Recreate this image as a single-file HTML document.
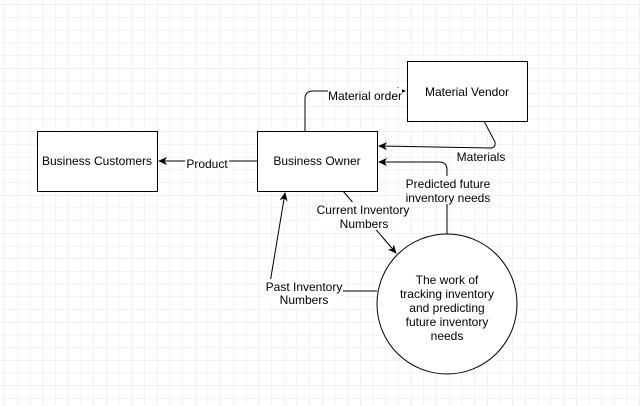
<!DOCTYPE html>
<html><head><style>
html,body{margin:0;padding:0;background:#fff;}
svg{display:block;font-family:"Liberation Sans",Arial,sans-serif;}
</style></head><body>
<svg width="640" height="406" viewBox="0 0 640 406" xmlns="http://www.w3.org/2000/svg">
<defs>
<pattern id="g" width="12.7" height="12.7" patternUnits="userSpaceOnUse" x="5" y="5">
<path d="M12.7 0V12.7M0 12.7H12.7" fill="none" stroke="#e6e6e6" stroke-width="1"/>
</pattern>
<marker id="a" markerWidth="10" markerHeight="10" refX="8" refY="5" orient="auto" markerUnits="userSpaceOnUse">
<path d="M0 1L9 5L0 9L2.5 5Z" fill="#000"/>
</marker>
</defs>
<rect width="640" height="406" fill="url(#g)"/>
<g fill="none" stroke="#000" stroke-width="1">
<path d="M257 161H159" marker-end="url(#a)"/>
<path d="M305 131V99Q305 91 313 91H405" marker-end="url(#a)"/>
<path d="M484 121L495 142Q496 148 490 148L379 146" marker-end="url(#a)"/>
<path d="M447 234V170Q447 162 439 162H379" marker-end="url(#a)"/>
<path d="M343 191L396 253" marker-end="url(#a)"/>
<path d="M377 291H343"/>
<path d="M270 283L285 193" marker-end="url(#a)"/>
</g>
<g fill="#fff" stroke="#000" stroke-width="1">
<rect x="37.5" y="131.5" width="120" height="60"/>
<rect x="257.5" y="131.5" width="120" height="60"/>
<rect x="407.5" y="61.5" width="120" height="60"/>
<circle cx="447" cy="304" r="70"/>
</g>
<g font-size="12" text-anchor="middle" fill="#000">
<text x="97" y="165">Business Customers</text>
<text x="317" y="165">Business Owner</text>
<text x="467" y="96">Material Vendor</text>
<text x="447" y="284">The work of</text>
<text x="447" y="298">tracking inventory</text>
<text x="447" y="312">and predicting</text>
<text x="447" y="326">future inventory</text>
<text x="447" y="340">needs</text>
</g>
<g font-size="12" text-anchor="middle" fill="#000">
<rect x="185" y="156" width="44" height="14" fill="#fff"/>
<text x="207" y="168">Product</text>
<rect x="328" y="88" width="74" height="15" fill="#fff"/>
<text x="365" y="100">Material order</text>
<rect x="456" y="149" width="50" height="15" fill="#fff"/>
<text x="481" y="161">Materials</text>
<rect x="405" y="176" width="86" height="28" fill="#fff"/>
<text x="448" y="188">Predicted future</text>
<text x="448" y="202">inventory needs</text>
<rect x="317" y="202" width="93" height="28" fill="#fff"/>
<text x="363" y="214">Current Inventory</text>
<text x="364" y="228">Numbers</text>
<rect x="265" y="279" width="78" height="28" fill="#fff"/>
<text x="304" y="291">Past Inventory</text>
<text x="304" y="304">Numbers</text>
</g>
</svg>
</body></html>
